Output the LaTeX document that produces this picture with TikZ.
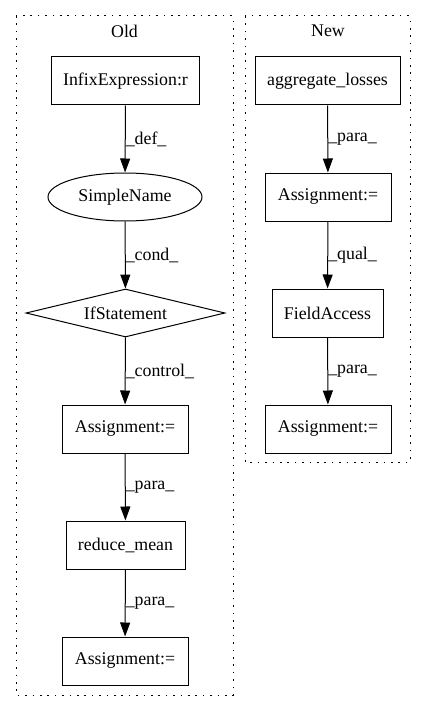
\documentclass[tikz,border=0pt]{standalone}
\usepackage{fontspec}
\setmainfont{Liberation Serif}
\usetikzlibrary{shapes.geometric,arrows.meta}
\begin{document}
\begin{tikzpicture}[x=1bp,y=-1bp,
  every node/.style={font=\fontsize{17.9}{20}\selectfont, inner sep=0pt},
  box/.style={draw, line width=1bp, rectangle, minimum height=48bp},
  ell/.style={draw, line width=1bp, ellipse, minimum width=154bp, minimum height=48bp},
  dia/.style={draw, line width=1bp, diamond, shape aspect=4, minimum width=199bp, minimum height=48bp},
  cluster/.style={draw, line width=1bp, dash pattern=on 1.6bp off 5.8bp},
  edge/.style={draw, line width=1bp, -{Triangle[length=14bp,width=10bp]}},
  lbl/.style={anchor=west}
]
\useasboundingbox (0,0) rectangle (427,712);
\draw[cluster] (16,16) rectangle (233,695);
\draw[cluster] (245,16) rectangle (410,462);
\node (oldt) at (124.5,31) {Old};
\node (newt) at (328,31) {New};
% Old
\node[box, minimum width=147bp] (infix) at (125.5,81) {InfixExpression:r};
\node[ell] (simple) at (125,197) {SimpleName};
\node[dia] (ifst) at (125.5,313) {IfStatement};
\node[box, minimum width=126bp] (asg1) at (125,429) {Assignment:=};
\node[box, minimum width=119bp] (rmean) at (125.5,545) {reduce\_mean};
\node[box, minimum width=126bp] (asg2) at (125,661) {Assignment:=};
% New
\node[box, minimum width=145bp] (agg) at (327.5,81) {aggregate\_losses};
\node[box, minimum width=126bp] (asg3) at (328,197) {Assignment:=};
\node[box, minimum width=111bp] (fa) at (327.5,313) {FieldAccess};
\node[box, minimum width=126bp] (asg4) at (328,429) {Assignment:=};
% edges
\draw[edge] (infix) -- node[lbl, pos=0.5] {\_def\_} (simple);
\draw[edge] (simple) -- node[lbl, pos=0.5] {\_cond\_} (ifst);
\draw[edge] (ifst) -- node[lbl, pos=0.5] {\_control\_} (asg1);
\draw[edge] (asg1) -- node[lbl, pos=0.5] {\_para\_} (rmean);
\draw[edge] (rmean) -- node[lbl, pos=0.5] {\_para\_} (asg2);
\draw[edge] (agg) -- node[lbl, pos=0.5] {\_para\_} (asg3);
\draw[edge] (asg3) -- node[lbl, pos=0.5] {\_qual\_} (fa);
\draw[edge] (fa) -- node[lbl, pos=0.5] {\_para\_} (asg4);
\end{tikzpicture}
\end{document}
